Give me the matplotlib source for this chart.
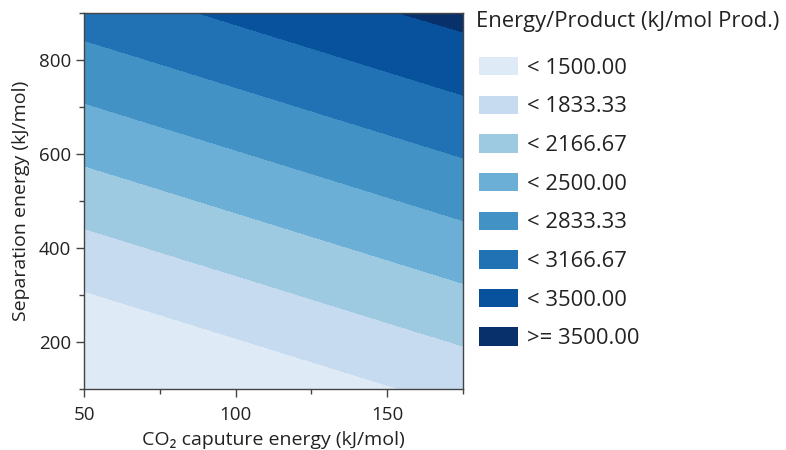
import numpy as np
import matplotlib
matplotlib.use('Agg')
import matplotlib.pyplot as plt
from matplotlib.patches import Patch
from matplotlib.ticker import MultipleLocator

plt.rcParams['font.family'] = ['Open Sans', 'DejaVu Sans']

# grid corners of the (planar) energy surface
capture_energy = [50, 175]
separation_energy = [100, 900]
energy_per_product = [[980, 1605],
                      [2980, 3605]]

levels = [0, 1500, 1833.33, 2166.67, 2500, 2833.33, 3166.67, 3500, 5000]
colors = ['#deebf7', '#c6dbef', '#9ecae1', '#6baed6',
          '#4292c6', '#2171b5', '#08519c', '#08306b']
labels = ['< 1500.00', '< 1833.33', '< 2166.67', '< 2500.00',
          '< 2833.33', '< 3166.67', '< 3500.00', '>= 3500.00']

fig = plt.figure(figsize=(7.86, 4.5), dpi=100)
ax = fig.add_axes([0.1069, 0.1356, 0.4822, 0.8362])

X, Y = np.meshgrid(capture_energy, separation_energy)
ax.contourf(X, Y, np.array(energy_per_product), levels=levels, colors=colors)

ax.set_xlim(50, 175)
ax.set_ylim(100, 900)
ax.set_xticks([50, 100, 150])
ax.xaxis.set_minor_locator(MultipleLocator(25))
ax.set_yticks([200, 400, 600, 800])
ax.yaxis.set_minor_locator(MultipleLocator(100))
ax.tick_params(which='major', length=6, width=1, color='#444444',
               labelsize=13.5, labelcolor='#222222')
ax.tick_params(axis='x', which='major', pad=6)
ax.tick_params(which='minor', length=3.5, width=1, color='#444444')
for s in ax.spines.values():
    s.set_color('#444444')
    s.set_linewidth(1)

ax.set_xlabel('CO\u2082 caputure energy (kJ/mol)', fontsize=14, color='#222222', labelpad=5)
ax.set_ylabel('Separation energy (kJ/mol)', fontsize=14, color='#222222', labelpad=6)

fig.text(476 / 786, 1 - 22 / 450, 'Energy/Product (kJ/mol Prod.)',
         fontsize=15.8, color='#222222', ha='left', va='center')

handles = [Patch(facecolor=c, edgecolor='none') for c in colors]
leg = fig.legend(handles, labels, loc='upper left',
                 bbox_to_anchor=(479 / 786, 1 - 57 / 450),
                 frameon=False, fontsize=15.8, borderpad=0,
                 handlelength=1.77, handleheight=0.91, handletextpad=0.4,
                 labelspacing=0.77, borderaxespad=0)
for t in leg.get_texts():
    t.set_color('#222222')

fig.savefig('out.png', dpi=100)
